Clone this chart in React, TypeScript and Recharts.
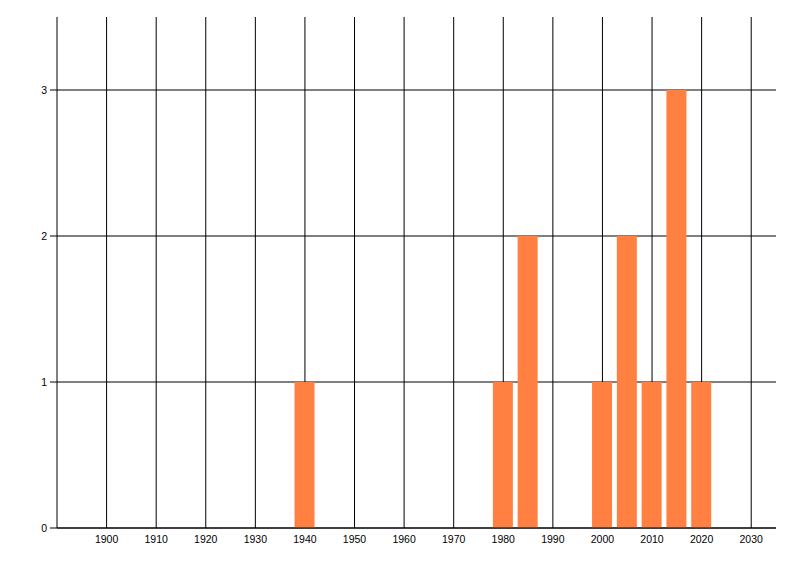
import { ComposedChart, Bar, XAxis, YAxis, CartesianGrid } from "recharts";

const years = [1940, 1980, 1985, 2000, 2005, 2010, 2015, 2020];
const counts = [1, 1, 2, 1, 2, 1, 3, 1];
const xTicks = [1900, 1910, 1920, 1930, 1940, 1950, 1960, 1970, 1980, 1990, 2000, 2010, 2020, 2030];
const yTicks = [0, 1, 2, 3];

const data = years.map((year, i) => ({ year, count: counts[i] }));

const tickStyle = { fill: "#000", fontSize: 10.5, fontFamily: "Liberation Sans, Arial, sans-serif" };

export default function App() {
  return (
    <ComposedChart
      width={784}
      height={560}
      data={data}
      margin={{ top: 9, right: 16, bottom: 10, left: 0 }}
    >
      <CartesianGrid
        stroke="#000"
        strokeWidth={1}
        horizontalValues={yTicks}
        verticalValues={xTicks}
      />
      <XAxis
        dataKey="year"
        type="number"
        domain={[1890, 2035]}
        ticks={xTicks}
        tickLine={false}
        axisLine={{ stroke: "#000" }}
        tick={tickStyle}
        tickMargin={2}
        height={30}
        allowDataOverflow
      />
      <YAxis
        type="number"
        domain={[0, 3.5]}
        ticks={yTicks}
        tickLine={{ stroke: "#000" }}
        tickSize={7}
        tickMargin={3}
        axisLine={{ stroke: "#000" }}
        tick={tickStyle}
        width={49}
        allowDataOverflow
      />
      <Bar dataKey="count" fill="#ff8040" barSize={20} isAnimationActive={false} />
    </ComposedChart>
  );
}
